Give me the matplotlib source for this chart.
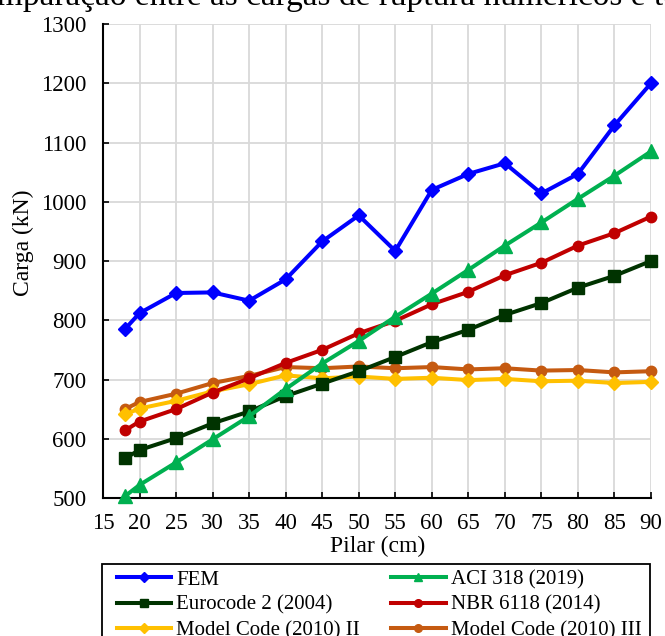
import matplotlib
matplotlib.use("Agg")
import matplotlib.pyplot as plt
from matplotlib.lines import Line2D
from matplotlib.patches import Rectangle

plt.rcParams['font.family'] = ['Liberation Serif', 'DejaVu Serif']

pilar = [18, 20, 25, 30, 35, 40, 45, 50, 55, 60, 65, 70, 75, 80, 85, 90]
fem = [785, 812, 846, 847, 833, 869, 933, 977, 917, 1020, 1047, 1065, 1014, 1047, 1129, 1200]
aci = [503, 522, 560, 599, 638, 684, 727, 765, 806, 845, 885, 926, 965, 1005, 1044, 1085]
eurocode = [567, 581, 601, 626, 646, 672, 693, 714, 738, 763, 784, 809, 829, 855, 875, 900]
nbr = [614, 629, 650, 678, 702, 728, 750, 778, 799, 827, 848, 876, 897, 926, 947, 975]
mc2 = [641, 651, 664, 680, 692, 707, 702, 705, 701, 703, 699, 701, 697, 698, 694, 696]
mc3 = [650, 662, 676, 694, 706, 721, 719, 722, 719, 721, 717, 719, 715, 716, 712, 714]

labels = ["FEM", "ACI 318 (2019)", "Eurocode 2 (2004)", "NBR 6118 (2014)",
          "Model Code (2010) II", "Model Code (2010) III"]
title = "Comparação entre as cargas de ruptura numéricos e teóricos"

W, H = 665, 636
fig = plt.figure(figsize=(W/100, H/100), dpi=100)
ax = fig.add_axes([103/W, 1 - 498/H, (651-103)/W, (498-24)/H])

lw = 2.9
series = [
    (mc3, "#C55A11", "o", 7.5, 5.5, labels[5]),
    (mc2, "#FFC000", "D", 7.5, 5, labels[4]),
    (eurocode, "#003300", "s", 8.5, 6, labels[2]),
    (nbr, "#C00000", "o", 7.5, 5.5, labels[3]),
    (aci, "#00B050", "^", 9.5, 5.5, labels[1]),
    (fem, "#0000FF", "D", 7.5, 5, labels[0]),
]
handles = {}
for ys, c, m, ms, lms, lab in series:
    ax.plot(pilar, ys, color=c, lw=lw, marker=m, ms=ms, mec=c, mfc=c, clip_on=False, zorder=3)
    handles[lab] = Line2D([], [], color=c, lw=lw, marker=m, ms=lms, mec=c, mfc=c)

ax.set_xlim(15, 90)
ax.set_ylim(500, 1300)
ax.set_xticks(range(15, 91, 5))
ax.set_yticks(range(500, 1301, 100))
ax.grid(True, color="#D9D9D9", lw=1.3, zorder=0)
ax.set_axisbelow(True)
for s in ["top", "right"]:
    ax.spines[s].set_visible(False)
for s in ["left", "bottom"]:
    ax.spines[s].set_linewidth(1.5)
    ax.spines[s].set_color("black")
ax.tick_params(direction="in", length=4, width=1.2, labelsize=16.5, colors="black")
ax.tick_params(axis="x", pad=11)
ax.tick_params(axis="y", pad=12)

fig.text(378/W, 1 - 546/H, "Pilar (cm)", ha="center", va="center", fontsize=17)
fig.text(23/W, 1 - 243/H, "Carga (kN)", ha="center", va="center", fontsize=17, rotation=90)

# legend frame (cut off by the bottom edge as in the reference)
fig.patches.append(Rectangle((102/W, -0.05), (650-102)/W, (1 - 564/H) + 0.05,
                             transform=fig.transFigure, fill=False,
                             edgecolor="black", lw=1.3))

order = [labels[0], labels[2], labels[4], labels[1], labels[3], labels[5]]
leg = fig.legend([handles[l] for l in order], order, ncol=2, fontsize=15,
                 loc="upper left", bbox_to_anchor=(117/W, 1 - 570/H),
                 frameon=False,
                 handlelength=2.6, columnspacing=1.5, labelspacing=0.27,
                 borderpad=0, borderaxespad=0, handletextpad=0.25)

# title, only its lower part visible at the top edge
renderer = fig.canvas.get_renderer()
tmp = fig.text(0, 0, "Comparação entre as cargas de ruptura numéricos e", fontsize=24)
wpre = tmp.get_window_extent(renderer).width
tmp.remove()
fig.text((645 - wpre)/W, 1 - 5/H, title, ha="left", va="baseline", fontsize=24)

fig.savefig("out.png", dpi=100)
